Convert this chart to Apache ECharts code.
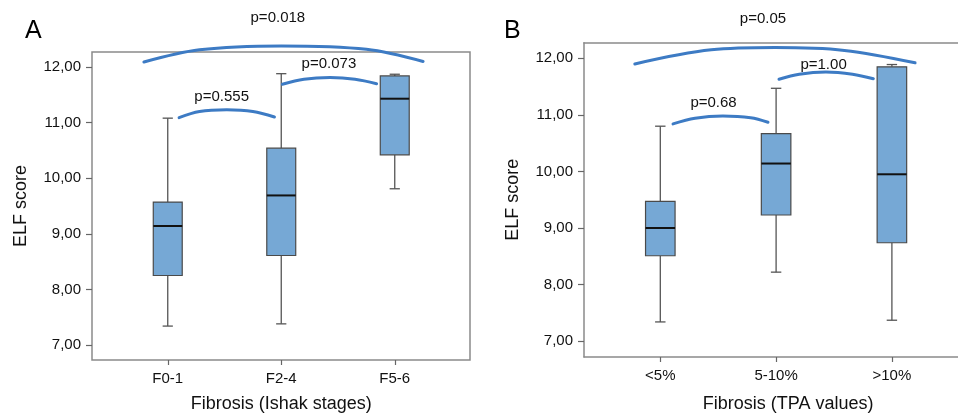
<!DOCTYPE html>
<html>
<head>
<meta charset="utf-8">
<script src="https://cdn.jsdelivr.net/npm/echarts@6/dist/echarts.min.js"></script>
<style>
html,body{margin:0;padding:0;background:#fff;}
#chart{width:958px;height:417px;}
</style>
</head>
<body>
<div id="chart"></div>
<script>
// ---------- data ----------
const categoriesA = ['F0-1', 'F2-4', 'F5-6'];
const categoriesB = ['<5%', '5-10%', '>10%'];
const yTicks = [7, 8, 9, 10, 11, 12];

const lowA    = [7.34, 7.38, 9.81];
const q1A     = [8.25, 8.61, 10.42];
const medianA = [9.14, 9.69, 11.43];
const q3A     = [9.57, 10.54, 11.84];
const highA   = [11.08, 11.88, 11.87];

const lowB    = [7.34, 8.22, 7.37];
const q1B     = [8.51, 9.23, 8.74];
const medianB = [9.00, 10.14, 9.95];
const q3B     = [9.47, 10.67, 11.85];
const highB   = [10.80, 11.47, 11.89];

// significance arcs: [category position, ELF score]
const arcA1 = [[0.10, 11.09], [0.28, 11.20], [0.52, 11.23], [0.75, 11.20], [0.94, 11.10]];
const arcA2 = [[1.01, 11.69], [1.20, 11.78], [1.43, 11.81], [1.65, 11.78], [1.84, 11.70]];
const arcA3 = [[-0.21, 12.09], [0.28, 12.31], [1.00, 12.38], [1.75, 12.32], [2.25, 12.10]];
const arcB1 = [[0.11, 10.84], [0.30, 10.94], [0.54, 10.98], [0.78, 10.95], [0.93, 10.87]];
const arcB2 = [[1.025, 11.63], [1.20, 11.72], [1.43, 11.76], [1.66, 11.72], [1.84, 11.64]];
const arcB3 = [[-0.22, 11.90], [0.44, 12.15], [0.99, 12.19], [1.59, 12.14], [2.20, 11.92]];

const pTextA = ['p=0.555', 'p=0.073', 'p=0.018'];
const pPosA  = [[0.475, 11.47], [1.42, 12.05], [0.97, 12.88]];
const pTextB = ['p=0.68', 'p=1.00', 'p=0.05'];
const pPosB  = [[0.46, 11.22], [1.41, 11.89], [0.887, 12.70]];

// ---------- helpers ----------
const FONT = '"Liberation Sans", Arial, Helvetica, sans-serif';
const TXT = '#111';
const ARC = '#3d7bc4';
const BOXFILL = '#76a8d5';
const FRAME = { color: '#8a8a8a', width: 1.5 };
const fmt = v => v.toFixed(2).replace('.', ',');

function boxRows(lo, q1, md, q3, hi) {
  return lo.map((v, i) => [i, lo[i], q1[i], md[i], q3[i], hi[i]]);
}

function renderBox(params, api) {
  const i = api.value(0);
  const band = api.size([1, 0])[0];
  const bw = band * 0.255, cw = band * 0.09;
  const pLo = api.coord([i, api.value(1)]);
  const pQ1 = api.coord([i, api.value(2)]);
  const pMd = api.coord([i, api.value(3)]);
  const pQ3 = api.coord([i, api.value(4)]);
  const pHi = api.coord([i, api.value(5)]);
  const x = pMd[0];
  const ws = { stroke: '#555', lineWidth: 1.3 };
  return {
    type: 'group',
    children: [
      { type: 'line', shape: { x1: x, y1: pHi[1], x2: x, y2: pQ3[1] }, style: ws },
      { type: 'line', shape: { x1: x, y1: pQ1[1], x2: x, y2: pLo[1] }, style: ws },
      { type: 'line', shape: { x1: x - cw / 2, y1: pHi[1], x2: x + cw / 2, y2: pHi[1] }, style: ws },
      { type: 'line', shape: { x1: x - cw / 2, y1: pLo[1], x2: x + cw / 2, y2: pLo[1] }, style: ws },
      { type: 'rect', shape: { x: x - bw / 2, y: pQ3[1], width: bw, height: pQ1[1] - pQ3[1] },
        style: { fill: BOXFILL, stroke: '#4a4a4a', lineWidth: 1.2 } },
      { type: 'line', shape: { x1: x - bw / 2, y1: pMd[1], x2: x + bw / 2, y2: pMd[1] },
        style: { stroke: '#111', lineWidth: 2 } }
    ]
  };
}

function arcSeries(data, xi, yi) {
  return { type: 'line', xAxisIndex: xi, yAxisIndex: yi, data: data, smooth: 0.35,
    symbol: 'none', clip: false, silent: true,
    lineStyle: { color: ARC, width: 3, cap: 'round' } };
}
function labelSeries(pos, texts, xi, yi) {
  return { type: 'scatter', xAxisIndex: xi, yAxisIndex: yi, clip: false, silent: true,
    symbolSize: 1, itemStyle: { color: 'rgba(0,0,0,0)', opacity: 1 },
    data: pos.map((p, k) => ({ value: p, name: texts[k] })),
    label: { show: true, position: 'inside', formatter: p => p.name, opacity: 1,
      color: TXT, textBorderWidth: 0, fontSize: 15, fontFamily: FONT } };
}

function frameY(min, max, gridIndex, showLine) {
  return { type: 'value', gridIndex: gridIndex, min: min, max: max,
    name: 'ELF score', nameLocation: 'middle', nameGap: 62,
    nameTextStyle: { color: TXT, fontSize: 18, fontFamily: FONT },
    splitLine: { show: false },
    axisLine: { show: showLine, lineStyle: FRAME },
    axisTick: { show: true, length: 6, customValues: yTicks, lineStyle: { color: '#666', width: 1.2 } },
    axisLabel: { show: true, customValues: yTicks, margin: 11, formatter: fmt,
      color: TXT, fontSize: 15, fontFamily: FONT } };
}
function hiddenY(min, max, gridIndex) {
  return { type: 'value', gridIndex: gridIndex, min: min, max: max, show: false, splitLine: { show: false } };
}
function edgeX(gridIndex, pos, showLine) {
  return { type: 'value', gridIndex: gridIndex, min: 0, max: 1, position: pos,
    axisLine: { show: showLine, onZero: false, lineStyle: FRAME },
    axisTick: { show: false }, axisLabel: { show: false }, splitLine: { show: false } };
}
function catX(cats, gridIndex, title, gap, pad) {
  return { type: 'category', gridIndex: gridIndex, data: cats, boundaryGap: true,
    name: title, nameLocation: 'middle', nameGap: gap,
    nameTextStyle: { color: TXT, fontSize: 18, fontFamily: FONT, padding: pad },
    axisLine: { show: false },
    axisTick: { show: true, alignWithLabel: true, length: 5, lineStyle: { color: '#666', width: 1.2 } },
    axisLabel: { color: TXT, fontSize: 15, fontFamily: FONT, margin: 11 },
    splitLine: { show: false } };
}

const option = {
  backgroundColor: '#fff',
  animation: false,
  grid: [
    { left: 92, top: 52, width: 378, height: 308, show: true, borderColor: FRAME.color, borderWidth: FRAME.width, backgroundColor: 'transparent', outerBoundsMode: 'none' },
    { left: 111, top: 52, width: 340.5, height: 308, outerBoundsMode: 'none' },
    { left: 584, top: 42.7, width: 420, height: 314.3, outerBoundsMode: 'none' },
    { left: 602.4, top: 42.7, width: 347.4, height: 314.3, outerBoundsMode: 'none' }
  ],
  xAxis: [
    edgeX(0, 'bottom', false),
    catX(categoriesA, 1, 'Fibrosis (Ishak stages)', 35, [0, 0, 0, 0]),
    { type: 'value', gridIndex: 1, min: -0.5, max: 2.5, show: false },
    edgeX(2, 'bottom', true),
    catX(categoriesB, 3, 'Fibrosis (TPA values)', 38, [0, 0, 0, 24]),
    { type: 'value', gridIndex: 3, min: -0.5, max: 2.5, show: false },
    edgeX(2, 'top', true)
  ],
  yAxis: [
    frameY(6.73, 12.27, 0, false),
    hiddenY(6.73, 12.27, 1),
    frameY(6.72, 12.276, 2, true),
    hiddenY(6.72, 12.276, 3)
  ],
  graphic: [
    { type: 'text', left: 25, top: 19, style: { text: 'A', fill: '#000', font: '25px ' + FONT } },
    { type: 'text', left: 504, top: 19, style: { text: 'B', fill: '#000', font: '25px ' + FONT } }
  ],
  series: [
    { type: 'custom', xAxisIndex: 1, yAxisIndex: 1, renderItem: renderBox,
      encode: { x: 0, y: [1, 2, 3, 4, 5] }, data: boxRows(lowA, q1A, medianA, q3A, highA) },
    { type: 'custom', xAxisIndex: 4, yAxisIndex: 3, renderItem: renderBox,
      encode: { x: 0, y: [1, 2, 3, 4, 5] }, data: boxRows(lowB, q1B, medianB, q3B, highB) },
    arcSeries(arcA1, 2, 1), arcSeries(arcA2, 2, 1), arcSeries(arcA3, 2, 1),
    arcSeries(arcB1, 5, 3), arcSeries(arcB2, 5, 3), arcSeries(arcB3, 5, 3),
    labelSeries(pPosA, pTextA, 2, 1),
    labelSeries(pPosB, pTextB, 5, 3)
  ]
};

const chart = echarts.init(document.getElementById('chart'), null, { renderer: 'canvas' });
chart.setOption(option);
</script>
</body>
</html>
